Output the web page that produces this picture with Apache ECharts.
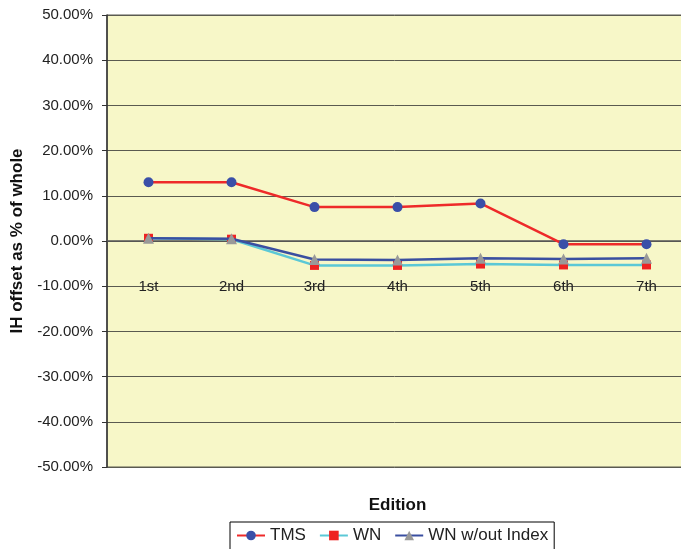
<!DOCTYPE html>
<html><head><meta charset="utf-8">
<script src="https://cdn.jsdelivr.net/npm/echarts@6/dist/echarts.min.js"></script>
<style>html,body{margin:0;padding:0;background:#fff}#c{width:681px;height:549px}</style>
</head><body><div id="c"></div>
<script>
const categories = ['1st','2nd','3rd','4th','5th','6th','7th'];
const tms = [13.0, 13.0, 7.5, 7.5, 8.3, -0.7, -0.7];
const wn = [0.6, 0.4, -5.4, -5.4, -5.1, -5.3, -5.3];
const wnNoIndex = [0.6, 0.5, -4.1, -4.2, -3.8, -4.0, -3.8];
const yTicks = {min: -50, max: 50, interval: 10};

const chart = echarts.init(document.getElementById('c'));
const font = 'Liberation Sans, Arial, sans-serif';
chart.setOption({
  animation: false,
  grid: {left: 107, right: -7, top: 15, bottom: 82, outerBoundsMode: 'none', containLabel: false,
         show: true, backgroundColor: '#F7F7C8', borderColor: '#5a5a50', borderWidth: 1},
  xAxis: {
    type: 'category', data: categories, boundaryGap: true,
    offset: -226,
    axisLine: {onZero: false, lineStyle: {color: '#555', width: 1.5}},
    axisTick: {show: false},
    axisLabel: {margin: 38, fontSize: 15, color: '#222', fontFamily: font},
    name: 'Edition', nameLocation: 'middle', nameGap: 256,
    nameTextStyle: {fontSize: 17, fontWeight: 'bold', color: '#111', fontFamily: font}
  },
  yAxis: {
    type: 'value', min: yTicks.min, max: yTicks.max, interval: yTicks.interval,
    axisLine: {show: true, lineStyle: {color: '#333', width: 1.5}},
    axisTick: {show: true, length: 5, lineStyle: {color: '#333'}},
    axisLabel: {fontSize: 15, color: '#222', fontFamily: font, margin: 14, formatter: v => v.toFixed(2) + '%'},
    splitLine: {show: true, lineStyle: {color: '#5a5a50', width: 1}},
    name: 'IH offset as % of whole', nameLocation: 'middle', nameGap: 81,
    nameTextStyle: {fontSize: 17, fontWeight: 'bold', color: '#111', fontFamily: font}
  },
  legend: {
    left: 230, top: 522, orient: 'horizontal',
    borderColor: '#000', borderWidth: 1, padding: [5, 6, 12, 6], itemGap: 13,
    itemWidth: 28, itemHeight: 12,
    textStyle: {fontSize: 17, color: '#222', fontFamily: font},
    data: ['TMS', 'WN', 'WN w/out Index']
  },
  series: [
    {name: 'WN', type: 'line', data: wn, symbol: 'rect', symbolSize: 9,
     lineStyle: {color: '#5BC8D6', width: 2.5}, itemStyle: {color: '#EE2222'}, z: 2},
    {name: 'WN w/out Index', type: 'line', data: wnNoIndex, symbol: 'triangle', symbolSize: 11,
     lineStyle: {color: '#3A4FA0', width: 2.5}, itemStyle: {color: '#999999'}, z: 3},
    {name: 'TMS', type: 'line', data: tms, symbol: 'circle', symbolSize: 10,
     lineStyle: {color: '#EE2A2A', width: 2.5}, itemStyle: {color: '#3A4FA8'}, z: 4}
  ]
});
</script></body></html>
